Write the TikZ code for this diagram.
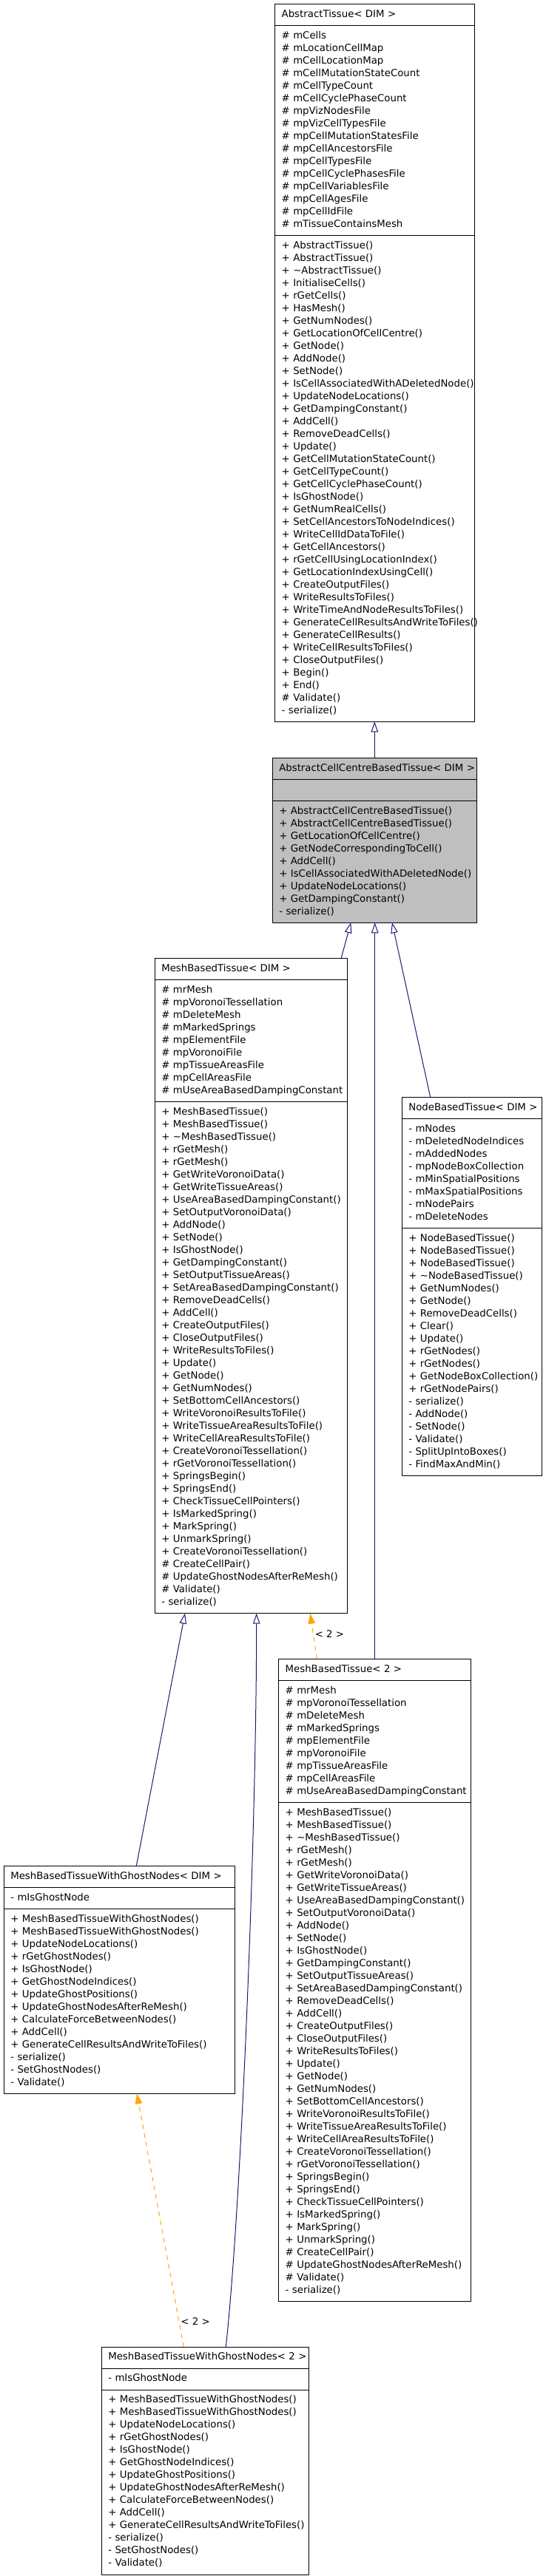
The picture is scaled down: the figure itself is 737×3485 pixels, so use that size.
\documentclass[tikz,border=0pt]{standalone}
\usepackage{fontspec}
\setmainfont{DejaVu Sans}
\usepackage{tikz}
\usetikzlibrary{
  arrows.meta,
  shapes.multipart,
  positioning
}
\definecolor{edgeblue}{HTML}{191970}
\definecolor{edgeorange}{HTML}{FFA500}
\definecolor{classgray}{HTML}{BFBFBF}
\hyphenpenalty=10000
\exhyphenpenalty=10000

\begin{document}
\begin{tikzpicture}[
      x=1pt,y=-1pt,
      umlclass/.style={
         rectangle split,
         rectangle split parts=3,
         draw=black,
         line width=1pt,
         anchor=north west,
         align=left,
         inner xsep=9pt,
         inner ysep=5.5pt,
         outer sep=0pt,
         font=\fontsize{13.3}{17}\selectfont,
         text width=#1
      },
      inherit/.style={draw=edgeblue,line width=1pt,-{Triangle[open,length=14pt,width=9.5pt]}},
      template/.style={draw=edgeorange,line width=1pt,dash pattern=on 6pt off 6pt,
         -{Triangle[length=14pt,width=9.5pt]}},
      tlabel/.style={anchor=west,inner sep=2pt,font=\fontsize{13.3}{17}\selectfont,text=black}
    ]
    \useasboundingbox (0,0) rectangle (737,3485);

    \node (absTissue) [umlclass=252pt] at (371.7,5.3) {\centering\strut AbstractTissue<~DIM~>
      \nodepart{second}
      \strut\#~mCells\\
      \#~mLocationCellMap\\
      \#~mCellLocationMap\\
      \#~mCellMutationStateCount\\
      \#~mCellTypeCount\\
      \#~mCellCyclePhaseCount\\
      \#~mpVizNodesFile\\
      \#~mpVizCellTypesFile\\
      \#~mpCellMutationStatesFile\\
      \#~mpCellAncestorsFile\\
      \#~mpCellTypesFile\\
      \#~mpCellCyclePhasesFile\\
      \#~mpCellVariablesFile\\
      \#~mpCellAgesFile\\
      \#~mpCellIdFile\\
      \#~mTissueContainsMesh\strut
      \nodepart{third}
      \strut+~AbstractTissue()\\
      +~AbstractTissue()\\
      +~\textasciitilde AbstractTissue()\\
      +~InitialiseCells()\\
      +~rGetCells()\\
      +~HasMesh()\\
      +~GetNumNodes()\\
      +~GetLocationOfCellCentre()\\
      +~GetNode()\\
      +~AddNode()\\
      +~SetNode()\\
      +~IsCellAssociatedWithADeletedNode()\\
      +~UpdateNodeLocations()\\
      +~GetDampingConstant()\\
      +~AddCell()\\
      +~RemoveDeadCells()\\
      +~Update()\\
      +~GetCellMutationStateCount()\\
      +~GetCellTypeCount()\\
      +~GetCellCyclePhaseCount()\\
      +~IsGhostNode()\\
      +~GetNumRealCells()\\
      +~SetCellAncestorsToNodeIndices()\\
      +~WriteCellIdDataToFile()\\
      +~GetCellAncestors()\\
      +~rGetCellUsingLocationIndex()\\
      +~GetLocationIndexUsingCell()\\
      +~CreateOutputFiles()\\
      +~WriteResultsToFiles()\\
      +~WriteTimeAndNodeResultsToFiles()\\
      +~GenerateCellResultsAndWriteToFiles()\\
      +~GenerateCellResults()\\
      +~WriteCellResultsToFiles()\\
      +~CloseOutputFiles()\\
      +~Begin()\\
      +~End()\\
      \#~Validate()\\
      -~serialize()\strut};

    \node (accbTissue) [umlclass=258pt, fill=classgray] at (368.3,1025.3) {\centering\strut AbstractCellCentreBasedTissue<~DIM~>
      \nodepart{second}
      \strut
      \nodepart{third}
      \strut+~AbstractCellCentreBasedTissue()\\
      +~AbstractCellCentreBasedTissue()\\
      +~GetLocationOfCellCentre()\\
      +~GetNodeCorrespondingToCell()\\
      +~AddCell()\\
      +~IsCellAssociatedWithADeletedNode()\\
      +~UpdateNodeLocations()\\
      +~GetDampingConstant()\\
      -~serialize()\strut};

    \node (meshTissue) [umlclass=242pt] at (209.3,1296.7) {\centering\strut MeshBasedTissue<~DIM~>
      \nodepart{second}
      \strut\#~mrMesh\\
      \#~mpVoronoiTessellation\\
      \#~mDeleteMesh\\
      \#~mMarkedSprings\\
      \#~mpElementFile\\
      \#~mpVoronoiFile\\
      \#~mpTissueAreasFile\\
      \#~mpCellAreasFile\\
      \#~mUseAreaBasedDampingConstant\strut
      \nodepart{third}
      \strut+~MeshBasedTissue()\\
      +~MeshBasedTissue()\\
      +~\textasciitilde MeshBasedTissue()\\
      +~rGetMesh()\\
      +~rGetMesh()\\
      +~GetWriteVoronoiData()\\
      +~GetWriteTissueAreas()\\
      +~UseAreaBasedDampingConstant()\\
      +~SetOutputVoronoiData()\\
      +~AddNode()\\
      +~SetNode()\\
      +~IsGhostNode()\\
      +~GetDampingConstant()\\
      +~SetOutputTissueAreas()\\
      +~SetAreaBasedDampingConstant()\\
      +~RemoveDeadCells()\\
      +~AddCell()\\
      +~CreateOutputFiles()\\
      +~CloseOutputFiles()\\
      +~WriteResultsToFiles()\\
      +~Update()\\
      +~GetNode()\\
      +~GetNumNodes()\\
      +~SetBottomCellAncestors()\\
      +~WriteVoronoiResultsToFile()\\
      +~WriteTissueAreaResultsToFile()\\
      +~WriteCellAreaResultsToFile()\\
      +~CreateVoronoiTessellation()\\
      +~rGetVoronoiTessellation()\\
      +~SpringsBegin()\\
      +~SpringsEnd()\\
      +~CheckTissueCellPointers()\\
      +~IsMarkedSpring()\\
      +~MarkSpring()\\
      +~UnmarkSpring()\\
      +~CreateVoronoiTessellation()\\
      \#~CreateCellPair()\\
      \#~UpdateGhostNodesAfterReMesh()\\
      \#~Validate()\\
      -~serialize()\strut};

    \node (nodeTissue) [umlclass=171.4pt] at (543.3,1484.3) {\centering\strut NodeBasedTissue<~DIM~>
      \nodepart{second}
      \strut-~mNodes\\
      -~mDeletedNodeIndices\\
      -~mAddedNodes\\
      -~mpNodeBoxCollection\\
      -~mMinSpatialPositions\\
      -~mMaxSpatialPositions\\
      -~mNodePairs\\
      -~mDeleteNodes\strut
      \nodepart{third}
      \strut+~NodeBasedTissue()\\
      +~NodeBasedTissue()\\
      +~NodeBasedTissue()\\
      +~\textasciitilde NodeBasedTissue()\\
      +~GetNumNodes()\\
      +~GetNode()\\
      +~RemoveDeadCells()\\
      +~Clear()\\
      +~Update()\\
      +~rGetNodes()\\
      +~rGetNodes()\\
      +~GetNodeBoxCollection()\\
      +~rGetNodePairs()\\
      -~serialize()\\
      -~AddNode()\\
      -~SetNode()\\
      -~Validate()\\
      -~SplitUpIntoBoxes()\\
      -~FindMaxAndMin()\strut};

    \node (meshTissueTwo) [umlclass=242pt] at (376.7,2244.3) {\centering\strut MeshBasedTissue<~2~>
      \nodepart{second}
      \strut\#~mrMesh\\
      \#~mpVoronoiTessellation\\
      \#~mDeleteMesh\\
      \#~mMarkedSprings\\
      \#~mpElementFile\\
      \#~mpVoronoiFile\\
      \#~mpTissueAreasFile\\
      \#~mpCellAreasFile\\
      \#~mUseAreaBasedDampingConstant\strut
      \nodepart{third}
      \strut+~MeshBasedTissue()\\
      +~MeshBasedTissue()\\
      +~\textasciitilde MeshBasedTissue()\\
      +~rGetMesh()\\
      +~rGetMesh()\\
      +~GetWriteVoronoiData()\\
      +~GetWriteTissueAreas()\\
      +~UseAreaBasedDampingConstant()\\
      +~SetOutputVoronoiData()\\
      +~AddNode()\\
      +~SetNode()\\
      +~IsGhostNode()\\
      +~GetDampingConstant()\\
      +~SetOutputTissueAreas()\\
      +~SetAreaBasedDampingConstant()\\
      +~RemoveDeadCells()\\
      +~AddCell()\\
      +~CreateOutputFiles()\\
      +~CloseOutputFiles()\\
      +~WriteResultsToFiles()\\
      +~Update()\\
      +~GetNode()\\
      +~GetNumNodes()\\
      +~SetBottomCellAncestors()\\
      +~WriteVoronoiResultsToFile()\\
      +~WriteTissueAreaResultsToFile()\\
      +~WriteCellAreaResultsToFile()\\
      +~CreateVoronoiTessellation()\\
      +~rGetVoronoiTessellation()\\
      +~SpringsBegin()\\
      +~SpringsEnd()\\
      +~CheckTissueCellPointers()\\
      +~IsMarkedSpring()\\
      +~MarkSpring()\\
      +~UnmarkSpring()\\
      \#~CreateCellPair()\\
      \#~UpdateGhostNodesAfterReMesh()\\
      \#~Validate()\\
      -~serialize()\strut};

    \node (ghostTissue) [umlclass=294pt] at (5.3,2524.3) {\centering\strut MeshBasedTissueWithGhostNodes<~DIM~>
      \nodepart{second}
      \strut-~mIsGhostNode\strut
      \nodepart{third}
      \strut+~MeshBasedTissueWithGhostNodes()\\
      +~MeshBasedTissueWithGhostNodes()\\
      +~UpdateNodeLocations()\\
      +~rGetGhostNodes()\\
      +~IsGhostNode()\\
      +~GetGhostNodeIndices()\\
      +~UpdateGhostPositions()\\
      +~UpdateGhostNodesAfterReMesh()\\
      +~CalculateForceBetweenNodes()\\
      +~AddCell()\\
      +~GenerateCellResultsAndWriteToFiles()\\
      -~serialize()\\
      -~SetGhostNodes()\\
      -~Validate()\strut};

    \node (ghostTissueTwo) [umlclass=262pt] at (137.3,3175) {\centering\strut MeshBasedTissueWithGhostNodes<~2~>
      \nodepart{second}
      \strut-~mIsGhostNode\strut
      \nodepart{third}
      \strut+~MeshBasedTissueWithGhostNodes()\\
      +~MeshBasedTissueWithGhostNodes()\\
      +~UpdateNodeLocations()\\
      +~rGetGhostNodes()\\
      +~IsGhostNode()\\
      +~GetGhostNodeIndices()\\
      +~UpdateGhostPositions()\\
      +~UpdateGhostNodesAfterReMesh()\\
      +~CalculateForceBetweenNodes()\\
      +~AddCell()\\
      +~GenerateCellResultsAndWriteToFiles()\\
      -~serialize()\\
      -~SetGhostNodes()\\
      -~Validate()\strut};

    % inheritance
    \draw[inherit] (accbTissue.north) -- (accbTissue.north |- absTissue.south);
    \draw[inherit] ([xshift=-8.3pt]meshTissue.north east) -- ([xshift=-32pt]accbTissue.south);
    \draw[inherit] (meshTissueTwo.north) -- (meshTissueTwo.north |- accbTissue.south);
    \draw[inherit] ([xshift=38.4pt]nodeTissue.north west) -- ([xshift=23.7pt]accbTissue.south);
    \draw[inherit] ([xshift=23pt]ghostTissue.north) -- ([xshift=40.7pt]meshTissue.south west);
    \draw[inherit] ([xshift=28pt]ghostTissueTwo.north) .. controls +(20,-180) and +(0,300) .. ([xshift=137.4pt]meshTissue.south west);

    % template instances
    \draw[template] ([xshift=51.6pt]meshTissueTwo.north west) -- node[tlabel,pos=0.55] {<~2~>} ([xshift=210pt]meshTissue.south west);
    \draw[template] ([xshift=111pt]ghostTissueTwo.north west) -- node[tlabel,pos=0.1] {<~2~>} ([xshift=179.7pt]ghostTissue.south west);
\end{tikzpicture}
\end{document}
